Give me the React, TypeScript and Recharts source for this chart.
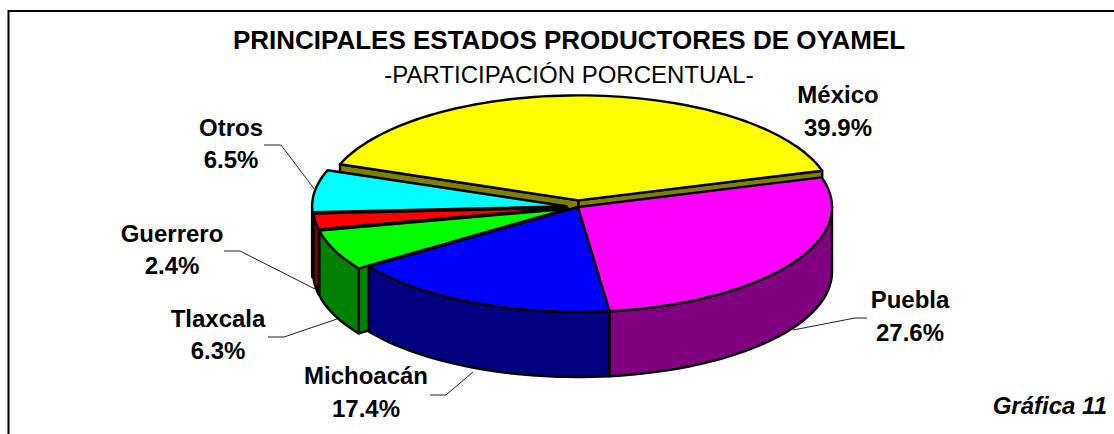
import { Pie, PieChart } from "recharts";

// Listed counter-clockwise from México so the back slices paint before the front ones
const estados = ["México", "Otros", "Guerrero", "Tlaxcala", "Michoacán", "Puebla"];
const participacion = [39.9, 6.5, 2.4, 6.3, 17.4, 27.6];

const topColors = ["#ffff00", "#00ffff", "#ff0000", "#00ff00", "#0000ff", "#ff00ff"];
const wallColors = ["#808000", "#008080", "#800000", "#008000", "#000080", "#800080"];
const explode = [16, 12, 11, 11, 0, 0];

const data = estados.map((name, i) => ({ name, value: participacion[i] }));

const WIDTH = 1114;
const HEIGHT = 434;
const CX = 578;
const CY = 207;
const RADIUS = 254;
const TILT = 105 / 254;
const DEPTH = 65;
const RAD = Math.PI / 180;
const LABEL_SIZE = 24;

// label block: centre x, first baseline, second baseline, leader polyline
const labelLayout: Record<string, { x: number; y1: number; y2: number; line?: string }> = {
  México: { x: 838, y1: 103, y2: 136 },
  Otros: { x: 231, y1: 136, y2: 168, line: "264,145 281,145 315,190" },
  Guerrero: { x: 172, y1: 242, y2: 274, line: "224,251 240,251 315,289" },
  Tlaxcala: { x: 218, y1: 327, y2: 359, line: "268,337 284,337 337,319" },
  Michoacán: { x: 366, y1: 384, y2: 417, line: "430,395 446,395 473,372" },
  Puebla: { x: 910, y1: 308, y2: 341, line: "867,318 855,318 793,330" },
};

function Slice3D(props: any) {
  const { cx, cy, outerRadius, startAngle, endAngle, index } = props;
  const lo = Math.min(startAngle, endAngle);
  const hi = Math.max(startAngle, endAngle);
  const mid = ((lo + hi) / 2) * RAD;
  const e = explode[index];
  const ox = cx + e * Math.cos(mid);
  const oy = cy - e * Math.sin(mid) * TILT;
  const px = (deg: number) => ox + outerRadius * Math.cos(deg * RAD);
  const py = (deg: number) => oy - outerRadius * TILT * Math.sin(deg * RAD);

  const arc = (from: number, to: number, dy = 0) => {
    const pts: string[] = [];
    const steps = Math.max(2, Math.ceil(Math.abs(to - from) / 2));
    for (let s = 0; s <= steps; s++) {
      const a = from + ((to - from) * s) / steps;
      pts.push(`${px(a).toFixed(1)},${(py(a) + dy).toFixed(1)}`);
    }
    return pts;
  };

  const edge = { stroke: "#000", strokeWidth: 2.4, strokeLinejoin: "round" as const };
  const walls: string[] = [];

  // cut faces only show where a slice has been pulled out of the pie
  if (e > 0) {
    if (Math.cos(hi * RAD) < 0) {
      walls.push(`${ox},${oy} ${px(hi)},${py(hi)} ${px(hi)},${py(hi) + DEPTH} ${ox},${oy + DEPTH}`);
    }
    if (Math.cos(lo * RAD) > 0) {
      walls.push(`${ox},${oy} ${px(lo)},${py(lo)} ${px(lo)},${py(lo) + DEPTH} ${ox},${oy + DEPTH}`);
    }
  }

  // outer wall, front half only
  const wallFrom = Math.max(lo, 180);
  const wallTo = Math.min(hi, 360);
  if (wallTo > wallFrom) {
    walls.push([...arc(wallFrom, wallTo), ...arc(wallTo, wallFrom, DEPTH)].join(" "));
  }

  return (
    <g>
      {walls.map((w, i) => (
        <polygon key={i} points={w} fill={wallColors[index]} {...edge} />
      ))}
      <polygon points={[`${ox},${oy}`, ...arc(lo, hi)].join(" ")} fill={topColors[index]} {...edge} />
    </g>
  );
}

function SliceLabel(props: any) {
  const { name, value } = props;
  const pos = labelLayout[name];
  return (
    <g>
      {pos.line && <polyline points={pos.line} fill="none" stroke="#222" strokeWidth={1} />}
      <text x={pos.x} y={pos.y1} textAnchor="middle" fontSize={LABEL_SIZE} fontWeight="bold" fill="#000">
        {name}
      </text>
      <text x={pos.x} y={pos.y2} textAnchor="middle" fontSize={LABEL_SIZE} fontWeight="bold" fill="#000">
        {value.toFixed(1)}%
      </text>
    </g>
  );
}

export default function App() {
  return (
    <div style={{ position: "absolute", left: 0, top: 0, width: WIDTH, height: HEIGHT, fontFamily: "'Liberation Sans', Arial, sans-serif" }}>
      <PieChart width={WIDTH} height={HEIGHT} margin={{ top: 0, right: 0, bottom: 0, left: 0 }}>
        <polyline points="8.5,434 8.5,11 1114,11" fill="none" stroke="#000" strokeWidth={2} />
        <text x={569} y={49} textAnchor="middle" fontSize={26} fontWeight="bold" fill="#000">
          PRINCIPALES ESTADOS PRODUCTORES DE OYAMEL
        </text>
        <text x={569} y={83} textAnchor="middle" fontSize={24} fill="#000">
          -PARTICIPACIÓN PORCENTUAL-
        </text>
        <Pie
          data={data}
          dataKey="value"
          nameKey="name"
          cx={CX}
          cy={CY}
          innerRadius={0}
          outerRadius={RADIUS}
          startAngle={16.4}
          endAngle={376.4}
          paddingAngle={0}
          stroke="none"
          shape={Slice3D}
          label={SliceLabel}
          labelLine={false}
          isAnimationActive={false}
        />
        <text x={1107} y={414} textAnchor="end" fontSize={LABEL_SIZE} fontWeight="bold" fontStyle="italic" fill="#000">
          Gráfica 11
        </text>
      </PieChart>
    </div>
  );
}
